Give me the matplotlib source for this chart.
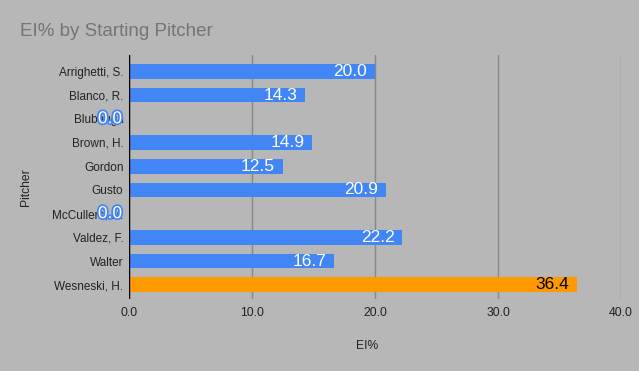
import matplotlib.pyplot as plt
import matplotlib.patheffects as pe

plt.rcParams['font.family'] = ['Liberation Sans', 'DejaVu Sans']

pitchers = ["Arrighetti, S.", "Blanco, R.", "Blubaugh", "Brown, H.", "Gordon",
            "Gusto", "McCullers, Jr.", "Valdez, F.", "Walter", "Wesneski, H."]
ei_pct = [20.0, 14.3, 0.0, 14.9, 12.5, 20.9, 0.0, 22.2, 16.7, 36.4]
highlight = "Wesneski, H."

bg = "#b7b7b7"
blue = "#4285f4"
orange = "#ff9900"

fig = plt.figure(figsize=(6.39, 3.71), dpi=100, facecolor=bg)
ax = fig.add_axes([129 / 639, (371 - 299) / 371, 492 / 639, 244 / 371], facecolor=bg)

ypos = list(range(len(pitchers)))
colors = [orange if p == highlight else blue for p in pitchers]
ax.barh(ypos, ei_pct, height=0.62, color=colors, zorder=3)

for y, v, p in zip(ypos, ei_pct, pitchers):
    if v == 0:
        # empty bars: label sits left of the axis, over the name
        ax.annotate(f"{v:.1f}", (v, y), xytext=(-5, 0), textcoords="offset points",
                    ha="right", va="center", fontsize=12.5, color="white", zorder=5,
                    path_effects=[pe.withStroke(linewidth=2.5, foreground=blue)])
    else:
        ax.annotate(f"{v:.1f}", (v, y), xytext=(-5.5, 0), textcoords="offset points",
                    ha="right", va="center", fontsize=12.5,
                    color="black" if p == highlight else "white", zorder=5)

ax.set_xlim(0, 40)
ax.set_ylim(9.6, -0.69)
ax.set_xticks([0, 10, 20, 30, 40])
ax.set_xticklabels(["0.0", "10.0", "20.0", "30.0", "40.0"], fontsize=8.7, color="#222222")
ax.set_yticks(ypos)
ax.set_yticklabels(pitchers, fontsize=8.5, color="#222222")
ax.tick_params(axis="y", length=0, pad=4)
ax.tick_params(axis="x", length=0, pad=5.5)
ax.grid(axis="x", color="#888888", linewidth=1, zorder=0)
ax.axvline(0, color="black", linewidth=1, zorder=4)
for s in ax.spines.values():
    s.set_visible(False)

ax.set_xlabel("EI%", fontsize=8.7, color="#222222")
ax.xaxis.set_label_coords((367 - 129) / 492, (299 - 340) / 244)
ax.set_ylabel("Pitcher", fontsize=8.7, color="#222222")
ax.yaxis.set_label_coords((32 - 129) / 492, (299 - 187) / 244)
fig.text(20 / 639, 1 - 31 / 371, "EI% by Starting Pitcher", fontsize=13.5,
         color="#757575", va="center", ha="left")

fig.savefig("out.png", dpi=100, facecolor=bg)
